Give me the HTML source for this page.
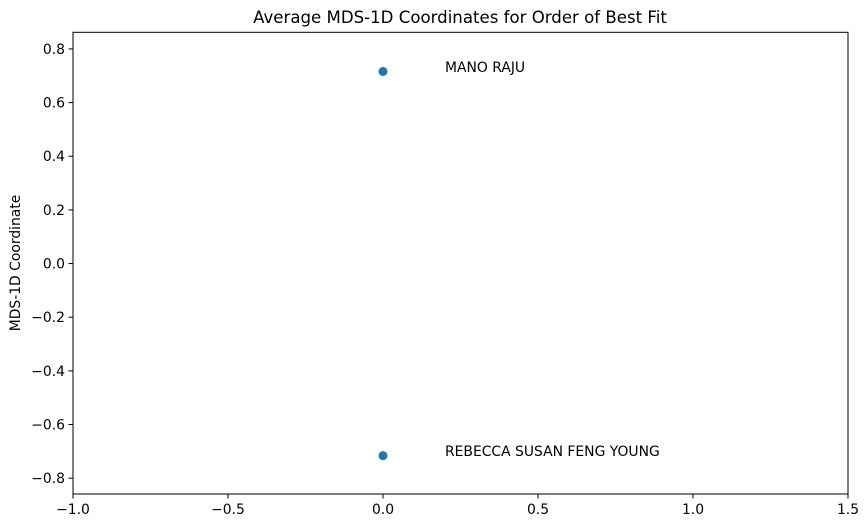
<!DOCTYPE html>
<html><head><meta charset="utf-8"><style>
body{margin:0;background:#fff;font-family:"DejaVu Sans","Liberation Sans",sans-serif;}
svg text{font-family:"DejaVu Sans","Liberation Sans",sans-serif;}
</style></head><body>
<svg id="chart" width="868" height="528">
<text x="460" y="23" font-size="16.6" text-anchor="middle">Average MDS-1D Coordinates for Order of Best Fit</text>
<text transform="translate(20,263) rotate(-90)" font-size="13.9" text-anchor="middle">MDS-1D Coordinate</text>
<g id="axes"></g>
<g id="marks"></g>
<rect x="73" y="32.3" width="775" height="461.7" fill="none" stroke="#000" stroke-width="1"/>
</svg>
<script>
const names = ["MANO RAJU", "REBECCA SUSAN FENG YOUNG"];
const xValues = [0, 0];
const yValues = [0.716, -0.716];
const xTicks = [-1.0, -0.5, 0.0, 0.5, 1.0, 1.5];
const xTickLabels = ["\u22121.0", "\u22120.5", "0.0", "0.5", "1.0", "1.5"];
const yTicks = [0.8, 0.6, 0.4, 0.2, 0.0, -0.2, -0.4, -0.6, -0.8];
const yTickLabels = ["0.8", "0.6", "0.4", "0.2", "0.0", "\u22120.2", "\u22120.4", "\u22120.6", "\u22120.8"];
const labelOffset = 0.2;

const L=73,R=848,T=32.3,B=494;
const xMin=-1,xMax=1.5,yMin=-0.859,yMax=0.862;
const sx=v=>L+(v-xMin)/(xMax-xMin)*(R-L);
const sy=v=>B-(v-yMin)/(yMax-yMin)*(B-T);
const NS="http://www.w3.org/2000/svg";
const axes=document.getElementById('axes'), marks=document.getElementById('marks');
function mk(tag,attrs,parent){const e=document.createElementNS(NS,tag);for(const k in attrs)e.setAttribute(k,attrs[k]);parent.appendChild(e);return e;}
xTicks.forEach((t,i)=>{
  const x=sx(t);
  const l=mk('line',{x1:x,x2:x,y1:B,y2:B+4.5,stroke:'#000'},axes);
  
  
  const tx=mk('text',{x:x,y:B+20,'font-size':13.9,'text-anchor':'middle'},axes);
  tx.textContent=xTickLabels[i];
  
  
});
yTicks.forEach((t,i)=>{
  const y=sy(t);
  const l=mk('line',{x1:L-4.5,x2:L,y1:y,y2:y,stroke:'#000'},axes);
  
  
  const tx=mk('text',{x:L-8,y:y+5,'font-size':13.9,'text-anchor':'end'},axes);
  tx.textContent=yTickLabels[i];
  
  
});
names.forEach((n,i)=>{
  const c=mk('circle',{cx:sx(xValues[i]),cy:sy(yValues[i]),r:4.5,fill:'#1f77b4'},marks);
  
  
  const tx=mk('text',{x:sx(xValues[i]+labelOffset),y:sy(yValues[i])+0.5,'font-size':13.9},marks);
  tx.textContent=n;
  
  
});
</script>
</body></html>
